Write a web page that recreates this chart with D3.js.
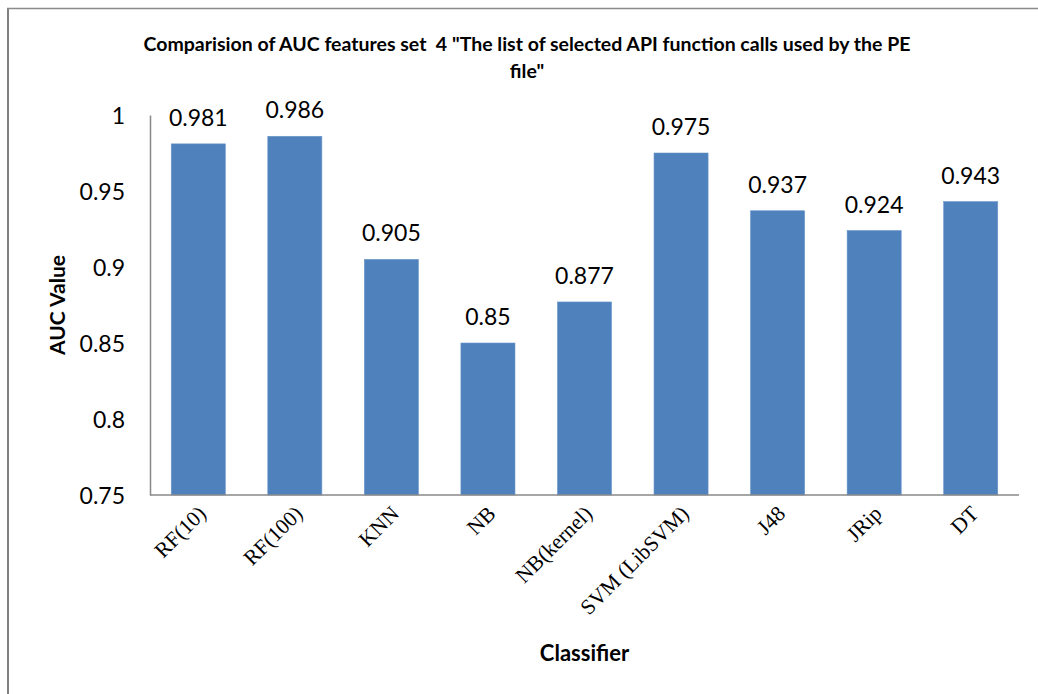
<!DOCTYPE html>
<html>
<head>
<meta charset="utf-8">
<script src="https://cdn.jsdelivr.net/npm/d3@7"></script>
<style>
  html, body { margin: 0; padding: 0; background: #fff; }
  svg { display: block; }
</style>
</head>
<body>
<svg id="chart" width="1038" height="694"></svg>
<script>
// Classifiers and their AUC values
const classifiers = ["RF(10)", "RF(100)", "KNN", "NB", "NB(kernel)", "SVM (LibSVM)", "J48", "JRip", "DT"];
const aucValues = [0.981, 0.986, 0.905, 0.85, 0.877, 0.975, 0.937, 0.924, 0.943];
const yTicks = [0.75, 0.8, 0.85, 0.9, 0.95, 1];
const yTickLabels = ["0.75", "0.8", "0.85", "0.9", "0.95", "1"];

const titleLines = ["Comparision of AUC features set  4 \"The list of selected API function calls used by the PE", "file\""];

const svg = d3.select("#chart");
const W = 1038, H = 694;
const plot = { left: 150, right: 1019, top: 115, bottom: 495 };
const sans = "Lato, 'Open Sans', sans-serif";
const serif = "'Liberation Serif', 'Times New Roman', serif";

// outer frame: left and top edges
svg.append("line").attr("x1", 8).attr("x2", 8).attr("y1", 8).attr("y2", H)
  .attr("stroke", "#808080").attr("stroke-width", 2);
svg.append("line").attr("x1", 7).attr("x2", W).attr("y1", 8.5).attr("y2", 8.5)
  .attr("stroke", "#8a8a8a").attr("stroke-width", 1.5);

const x = d3.scaleBand().domain(classifiers).range([plot.left, plot.right]).paddingInner(0.44).paddingOuter(0.22);
const y = d3.scaleLinear().domain([0.75, 1]).range([plot.bottom, plot.top]);

// title (two lines, keeps the double space)
const title = svg.append("text")
  .attr("text-anchor", "middle")
  .attr("font-family", sans).attr("font-weight", "bold").attr("font-size", 19.5)
  .style("white-space", "pre")
  .attr("fill", "#000");
titleLines.forEach((t, i) => {
  title.append("tspan").attr("x", 527).attr("y", 51 + i * 27).text(t);
});

// bars
svg.append("g").selectAll("rect").data(classifiers).join("rect")
  .attr("x", d => x(d))
  .attr("width", x.bandwidth())
  .attr("y", (d, i) => y(aucValues[i]))
  .attr("height", (d, i) => y(0.75) - y(aucValues[i]))
  .attr("fill", "#4F81BD")
  .attr("stroke", "#6b96c9").attr("stroke-width", 0.6);

// value labels
svg.append("g").selectAll("text").data(classifiers).join("text")
  .attr("x", d => x(d) + x.bandwidth() / 2)
  .attr("y", (d, i) => y(aucValues[i]) - 18)
  .attr("text-anchor", "middle")
  .attr("font-family", sans).attr("font-size", 23)
  .attr("fill", "#000")
  .text((d, i) => String(aucValues[i]));

// y axis
const yAxis = d3.axisLeft(y).tickValues(yTicks).tickSize(0).tickPadding(25)
  .tickFormat((d, i) => yTickLabels[i]);
const gy = svg.append("g").attr("transform", `translate(${plot.left},0)`).call(yAxis);
gy.select(".domain").attr("stroke", "#888").attr("stroke-width", 1.5);
gy.selectAll("text").attr("font-family", sans).attr("font-size", 23).attr("fill", "#000").attr("dy", "0.35em");

// x axis with slanted category names
const xAxis = d3.axisBottom(x).tickSize(0).tickPadding(0);
const gx = svg.append("g").attr("transform", `translate(0,${plot.bottom})`).call(xAxis);
gx.select(".domain").attr("stroke", "#888").attr("stroke-width", 1.5)
  .attr("d", `M${plot.left},0H${plot.right}`);
gx.selectAll("text")
  .attr("font-family", serif).attr("font-size", 21.5).attr("fill", "#000")
  .attr("text-anchor", "end")
  .attr("dy", null).attr("y", 0)
  .attr("transform", "translate(9,20) rotate(-45)");

// axis titles
svg.append("text")
  .attr("transform", `translate(65,305) rotate(-90)`)
  .attr("text-anchor", "middle")
  .attr("font-family", sans).attr("font-weight", "bold").attr("font-size", 21)
  .text("AUC Value");
svg.append("text")
  .attr("x", (plot.left + plot.right) / 2).attr("y", 661)
  .attr("text-anchor", "middle")
  .attr("font-family", sans).attr("font-weight", "bold").attr("font-size", 22)
  .text("Classifier");
</script>
</body>
</html>
